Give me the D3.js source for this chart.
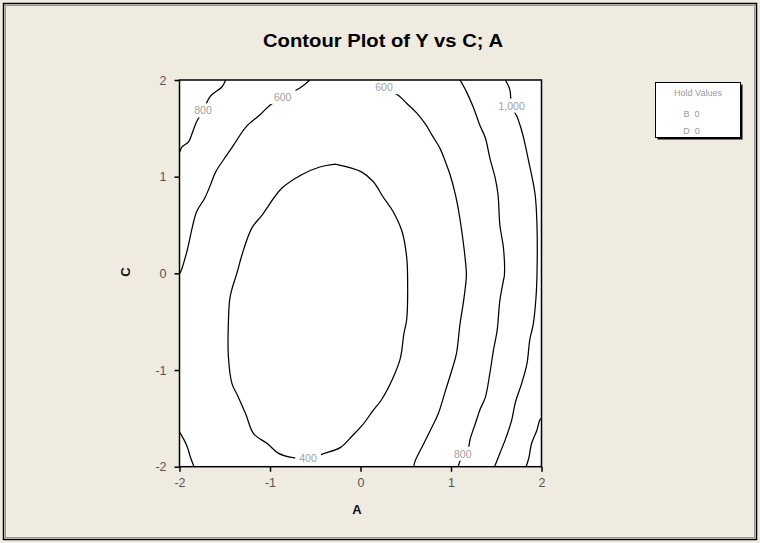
<!DOCTYPE html>
<html>
<head>
<meta charset="utf-8">
<script src="https://cdn.jsdelivr.net/npm/d3@7"></script>
<style>
  html, body { margin: 0; padding: 0; background: #EFEBE1; }
  svg { display: block; }
</style>
</head>
<body>
<script>
// ---------------- DATA ----------------
const title = "Contour Plot of Y vs C; A";
const xLabel = "A";
const yLabel = "C";
const xTicks = [-2, -1, 0, 1, 2];
const yTicks = [-2, -1, 0, 1, 2];
const holdFactors = ["B", "D"];
const holdValues = [0, 0];

// contour lines, points as [A, C]
const contour400 = [[-0.28,1.13],[0.01,1.05],[0.14,0.95],[0.25,0.79],[0.36,0.64],[0.46,0.43],[0.51,0.17],[0.52,-0.02],[0.51,-0.48],[0.48,-0.62],[0.44,-0.88],[0.35,-1.10],[0.23,-1.31],[0.13,-1.43],[0.03,-1.56],[-0.09,-1.68],[-0.22,-1.80],[-0.39,-1.86],[-0.58,-1.91],[-0.78,-1.90],[-0.91,-1.86],[-1.03,-1.76],[-1.18,-1.66],[-1.27,-1.45],[-1.36,-1.26],[-1.42,-1.14],[-1.46,-0.86],[-1.46,-0.52],[-1.44,-0.24],[-1.36,0.02],[-1.31,0.19],[-1.20,0.47],[-1.09,0.60],[-0.87,0.88],[-0.65,1.02],[-0.45,1.10],[-0.28,1.13]];
const contour600Left = [[-2.0,0.0],[-1.99,0.01],[-1.92,0.22],[-1.86,0.47],[-1.81,0.64],[-1.72,0.78],[-1.66,0.91],[-1.60,1.05],[-1.48,1.22],[-1.40,1.33],[-1.26,1.52],[-1.11,1.64],[-1.00,1.74],[-0.86,1.82],[-0.65,1.93],[-0.56,2.0]];
const contour600Right = [[0.19,2.0],[0.26,1.92],[0.42,1.84],[0.51,1.76],[0.62,1.66],[0.72,1.54],[0.79,1.43],[0.88,1.29],[0.94,1.15],[0.99,1.02],[1.05,0.81],[1.08,0.67],[1.12,0.43],[1.16,0.12],[1.17,-0.02],[1.14,-0.28],[1.10,-0.52],[1.06,-0.83],[1.01,-1.0],[0.94,-1.21],[0.86,-1.45],[0.79,-1.59],[0.70,-1.76],[0.60,-1.95],[0.59,-2.0]];
const contour800Left = [[-1.49,2.0],[-1.53,1.93],[-1.66,1.83],[-1.74,1.68],[-1.81,1.57],[-1.86,1.45],[-1.90,1.36],[-1.97,1.31],[-2.0,1.25]];
const contour800Bottom = [[-2.0,-1.64],[-1.92,-1.78],[-1.88,-1.90],[-1.84,-2.0]];
const contour800Right = [[1.10,2.0],[1.17,1.88],[1.25,1.71],[1.32,1.53],[1.38,1.40],[1.43,1.19],[1.49,0.98],[1.52,0.81],[1.54,0.50],[1.58,0.26],[1.59,-0.02],[1.58,-0.07],[1.54,-0.28],[1.51,-0.59],[1.47,-0.79],[1.43,-1.03],[1.38,-1.28],[1.32,-1.41],[1.27,-1.55],[1.21,-1.72],[1.19,-1.81],[1.13,-1.87],[1.08,-2.0]];
const contour1000 = [[1.60,2.0],[1.65,1.90],[1.67,1.73],[1.73,1.62],[1.78,1.48],[1.82,1.33],[1.86,1.15],[1.89,1.02],[1.93,0.81],[1.95,0.50],[1.95,-0.02],[1.94,-0.24],[1.91,-0.52],[1.87,-0.69],[1.84,-0.93],[1.78,-1.14],[1.71,-1.34],[1.67,-1.52],[1.60,-1.72],[1.54,-1.86],[1.49,-1.98],[1.48,-2.0]];
const contour1200 = [[2.0,-1.50],[1.98,-1.52],[1.95,-1.62],[1.89,-1.76],[1.86,-1.91],[1.83,-2.0]];
const contourLines = [contour400, contour600Left, contour600Right, contour800Left, contour800Bottom, contour800Right, contour1000, contour1200];

const labelTexts = ["400", "600", "600", "800", "800", "1,000"];
const labelAC = [[-0.58,-1.92],[-0.86,1.82],[0.26,1.92],[-1.74,1.68],[1.13,-1.87],[1.67,1.73]];

// ---------------- CHART ----------------
const W = 760, H = 543;
const svg = d3.select("body").append("svg").attr("width", W).attr("height", H);
const font = "'Liberation Sans', Arial, sans-serif";

svg.append("rect").attr("x", 0).attr("y", 0).attr("width", W).attr("height", H).attr("fill", "#EFEBE1");
// outer frame
svg.append("rect").attr("x", 3.5).attr("y", 3.5).attr("width", 753).attr("height", 536)
  .attr("fill", "none").attr("stroke", "#000").attr("stroke-width", 1.5);
svg.append("rect").attr("x", 5.5).attr("y", 5.5).attr("width", 749).attr("height", 532)
  .attr("fill", "none").attr("stroke", "#9a978c").attr("stroke-width", 1);

const pL = 179.5, pR = 541.5, pT = 80, pB = 466.7;
const x = d3.scaleLinear().domain([-2, 2]).range([pL, pR]);
const y = d3.scaleLinear().domain([-2, 2]).range([pB, pT]);

// plot area
svg.append("rect").attr("x", pL).attr("y", pT).attr("width", pR - pL).attr("height", pB - pT)
  .attr("fill", "#fff");

svg.append("clipPath").attr("id", "clip").append("rect")
  .attr("x", pL).attr("y", pT).attr("width", pR - pL).attr("height", pB - pT);

const line = d3.line().x(d => x(d[0])).y(d => y(d[1])).curve(d3.curveCatmullRom.alpha(0.5));
const g = svg.append("g").attr("clip-path", "url(#clip)");
g.selectAll("path.contour").data(contourLines).join("path")
  .attr("class", "contour")
  .attr("d", line)
  .attr("fill", "none").attr("stroke", "#000").attr("stroke-width", 1.25);

// contour labels with knock-out background
const lg = svg.append("g").attr("clip-path", "url(#clip)");
labelTexts.forEach((t, i) => {
  const px = x(labelAC[i][0]), py = y(labelAC[i][1]);
  const txt = lg.append("text").attr("x", px).attr("y", py + 3.5)
    .attr("text-anchor", "middle").attr("font-family", font).attr("font-size", 10.5)
    .attr("fill", "#a0a0a0").text(t);
  const bb = txt.node().getBBox();
  lg.insert("rect", "text").attr("x", bb.x - 4).attr("y", bb.y - 1)
    .attr("width", bb.width + 8).attr("height", bb.height + 2).attr("fill", "#fff");
});

// axes
const xAxis = d3.axisBottom(x).tickValues(xTicks).tickSize(5).tickPadding(6).tickFormat(d => String(d));
const yAxis = d3.axisLeft(y).tickValues(yTicks).tickSize(5).tickPadding(8).tickFormat(d => String(d));
const gx = svg.append("g").attr("transform", `translate(0,${pB})`).call(xAxis);
const gy = svg.append("g").attr("transform", `translate(${pL},0)`).call(yAxis);
[gx, gy].forEach(a => {
  a.select(".domain").remove();
  a.selectAll(".tick line").attr("stroke", "#000").attr("stroke-width", 1.5);
  a.selectAll(".tick text").attr("font-family", font).attr("font-size", 12.5).attr("fill", "#555");
});

// plot frame
svg.append("rect").attr("x", pL).attr("y", pT).attr("width", pR - pL).attr("height", pB - pT)
  .attr("fill", "none").attr("stroke", "#000").attr("stroke-width", 1.5);

// title
svg.append("text").attr("x", 383).attr("y", 47).attr("text-anchor", "middle")
  .attr("font-family", font).attr("font-weight", "bold").attr("font-size", 17.5)
  .attr("textLength", 240).attr("lengthAdjust", "spacingAndGlyphs")
  .attr("fill", "#000").text(title);

// axis titles
svg.append("text").attr("x", 357).attr("y", 514).attr("text-anchor", "middle")
  .attr("font-family", font).attr("font-weight", "bold").attr("font-size", 13)
  .attr("fill", "#111").text(xLabel);
svg.append("text").attr("transform", "translate(130,272) rotate(-90)").attr("text-anchor", "middle")
  .attr("font-family", font).attr("font-weight", "bold").attr("font-size", 13)
  .attr("fill", "#111").text(yLabel);

// hold values legend
const bx = 655.5, by = 82.5, bw = 85, bh = 55;
svg.append("rect").attr("x", bx + 2).attr("y", by + 2).attr("width", bw).attr("height", bh)
  .attr("fill", "#000");
svg.append("rect").attr("x", bx).attr("y", by).attr("width", bw).attr("height", bh)
  .attr("fill", "#fff").attr("stroke", "#000").attr("stroke-width", 1);
svg.append("text").attr("x", bx + bw / 2).attr("y", by + 13).attr("text-anchor", "middle")
  .attr("font-family", font).attr("font-size", 9).attr("fill", "#999").text("Hold Values");
holdFactors.forEach((f, i) => {
  svg.append("text").attr("x", bx + 36).attr("y", by + 34 + i * 17).attr("text-anchor", "middle")
    .attr("font-family", font).attr("font-size", 9).attr("fill", "#999")
    .attr("xml:space", "preserve").text(f + "  " + holdValues[i]);
});
</script>
</body>
</html>
